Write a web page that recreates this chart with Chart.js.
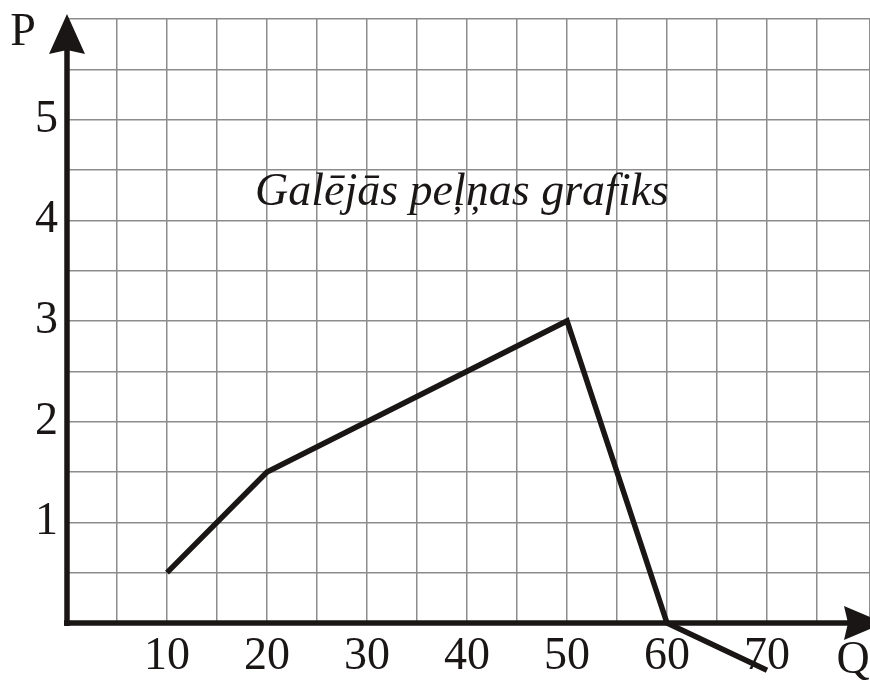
<!DOCTYPE html>
<html>
<head>
<meta charset="utf-8">
<script src="https://cdn.jsdelivr.net/npm/chart.js@4"></script>
<style>
  html, body { margin: 0; padding: 0; background: #fff; }
  #wrap { width: 870px; height: 682px; }
</style>
</head>
<body>
<div id="wrap"><canvas id="c"></canvas></div>
<script>
/* ---------- dados ---------- */
const qValues = [10, 20, 50, 60, 70];
const pValues = [0.5, 1.5, 3, 0, -0.47];
const xTickLabels = [10, 20, 30, 40, 50, 60, 70];
const yTickLabels = [1, 2, 3, 4, 5];
const chartTitle = 'Galējās peļņas grafiks';
const xAxisName = 'Q';
const yAxisName = 'P';

const INK = '#1a1616';
const GRID = '#8c8c8c';
const SERIF = "'Liberation Serif', 'DejaVu Serif', serif";

/* ---------- eixos com setas + textos ---------- */
const axesPlugin = {
    id: 'axesArrows',
    afterDraw(chart) {
        const ctx = chart.ctx;
        const ca = chart.chartArea;
        const xs = chart.scales.x, ys = chart.scales.y;
        const x0 = xs.getPixelForValue(0);
        const y0 = ys.getPixelForValue(0);
        ctx.save();
        ctx.strokeStyle = INK;
        ctx.fillStyle = INK;
        ctx.lineWidth = 5.5;
        ctx.lineCap = 'butt';

        // eixo vertical
        ctx.beginPath();
        ctx.moveTo(x0, y0 + 3);
        ctx.lineTo(x0, ca.top + 30);
        ctx.stroke();
        ctx.beginPath();
        ctx.moveTo(x0, ca.top - 5);
        ctx.lineTo(x0 + 18, ca.top + 35);
        ctx.lineTo(x0, ca.top + 31);
        ctx.lineTo(x0 - 18, ca.top + 35);
        ctx.closePath();
        ctx.fill();

        // eixo horizontal
        ctx.beginPath();
        ctx.moveTo(x0 - 3, y0);
        ctx.lineTo(ca.right - 20, y0);
        ctx.stroke();
        ctx.beginPath();
        ctx.moveTo(ca.right + 14, y0);
        ctx.lineTo(ca.right - 26, y0 - 17);
        ctx.lineTo(ca.right - 22, y0);
        ctx.lineTo(ca.right - 26, y0 + 17);
        ctx.closePath();
        ctx.fill();

        // nomes dos eixos
        ctx.font = `46px ${SERIF}`;
        ctx.textAlign = 'center';
        ctx.textBaseline = 'middle';
        ctx.fillText(yAxisName, x0 - 44, ca.top + 14);
        ctx.fillText(xAxisName, ca.right - 17, y0 + 38);

        // título dentro da grade
        ctx.font = `italic 46px ${SERIF}`;
        ctx.fillText(chartTitle, xs.getPixelForValue(39.5), ys.getPixelForValue(4.27));
        ctx.restore();
    }
};

new Chart(document.getElementById('c').getContext('2d'), {
    type: 'line',
    data: {
        datasets: [{
            data: qValues.map((q, i) => ({ x: q, y: pValues[i] })),
            borderColor: INK,
            borderWidth: 5.5,
            borderJoinStyle: 'miter',
            borderCapStyle: 'butt',
            pointRadius: 0,
            tension: 0,
            fill: false,
            clip: false
        }]
    },
    options: {
        responsive: true,
        maintainAspectRatio: false,
        animation: false,
        layout: { padding: { top: 19, right: 0, left: 0, bottom: 0 } },
        plugins: { legend: { display: false }, tooltip: { enabled: false } },
        scales: {
            x: {
                type: 'linear',
                min: 0,
                max: 80.3,
                afterFit: s => {
                    s.height = 59;
                    s.paddingLeft = 0; s.paddingRight = 0;
                },
                grid: { color: GRID, lineWidth: 1.5, drawTicks: false },
                border: { display: false },
                ticks: {
                    stepSize: 5,
                    autoSkip: false,
                    maxRotation: 0,
                    padding: 6,
                    color: INK,
                    font: { family: SERIF, size: 46 },
                    callback: v => xTickLabels.includes(v) ? String(v) : ''
                }
            },
            y: {
                type: 'linear',
                min: 0,
                max: 6,
                afterFit: s => {
                    s.width = 67;
                    s.paddingTop = 0; s.paddingBottom = 0;
                },
                grid: { color: GRID, lineWidth: 1.5, drawTicks: false },
                border: { display: false },
                ticks: {
                    stepSize: 0.5,
                    autoSkip: false,
                    padding: 9,
                    color: INK,
                    font: { family: SERIF, size: 46 },
                    callback: v => yTickLabels.includes(v) ? String(v) : ''
                }
            }
        }
    },
    plugins: [axesPlugin]
});
</script>
</body>
</html>
